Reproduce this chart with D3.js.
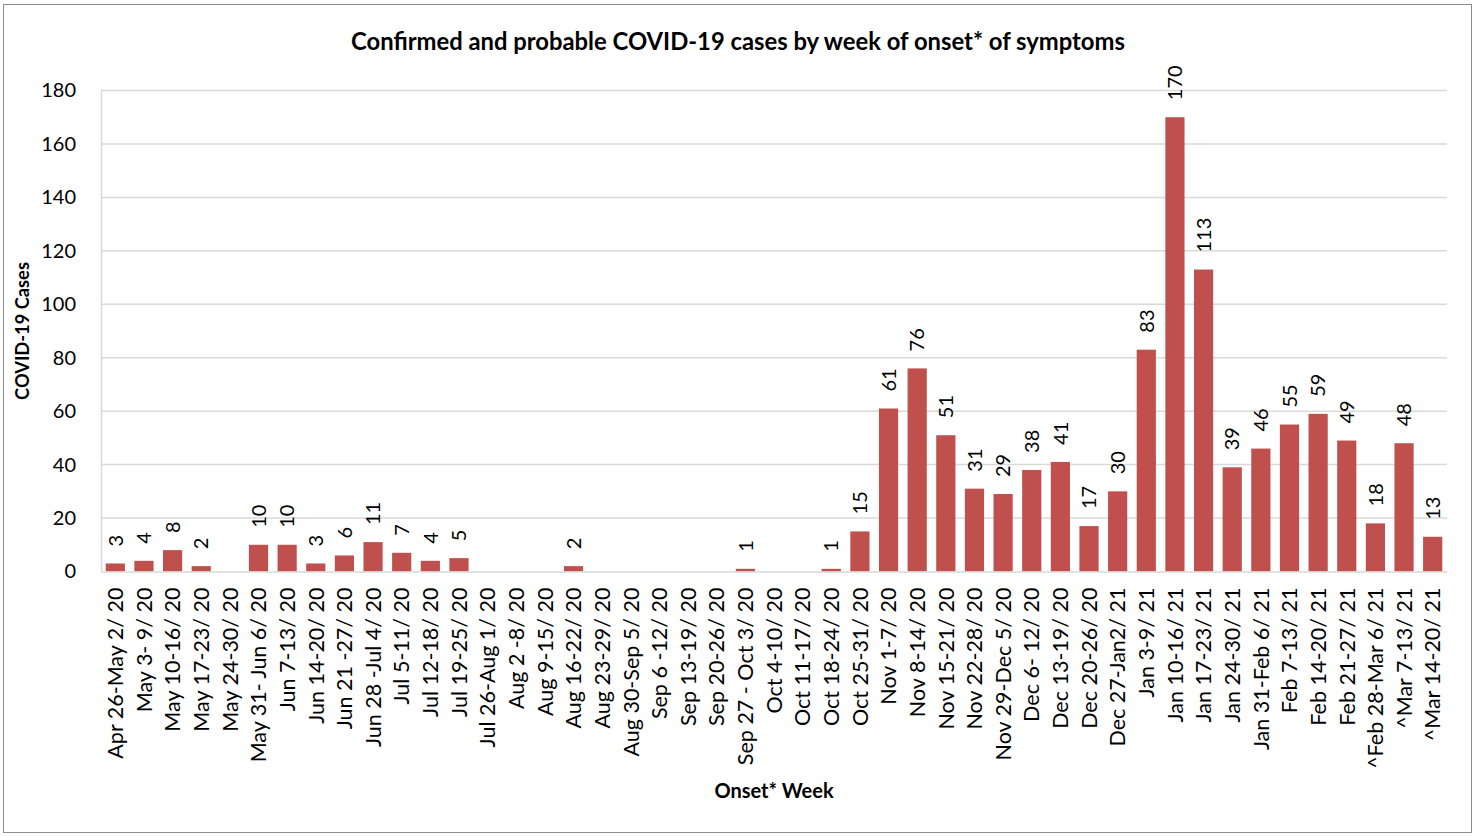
<!DOCTYPE html>
<html>
<head>
<meta charset="utf-8">
<script src="https://cdn.jsdelivr.net/npm/d3@7"></script>
<style>
  html, body { margin: 0; padding: 0; background: #fff; }
  svg { display: block; font-family: Lato, "Open Sans", sans-serif; }
</style>
</head>
<body>
<svg id="chart" width="1476" height="836"></svg>
<script>
const categories = [
  "Apr 26-May 2/ 20", "May 3- 9/ 20", "May 10-16/ 20", "May 17-23/ 20", "May 24-30/ 20",
  "May 31- Jun 6/ 20", "Jun 7-13/ 20", "Jun 14-20/ 20", "Jun 21 -27/ 20", "Jun 28 -Jul 4/ 20",
  "Jul 5-11/ 20", "Jul 12-18/ 20", "Jul 19-25/ 20", "Jul 26-Aug 1/ 20", "Aug 2 -8/ 20",
  "Aug 9-15/ 20", "Aug 16-22/ 20", "Aug 23-29/ 20", "Aug 30-Sep 5/ 20", "Sep 6 -12/ 20",
  "Sep 13-19/ 20", "Sep 20-26/ 20", "Sep 27 - Oct 3/ 20", "Oct 4-10/ 20", "Oct 11-17/ 20",
  "Oct 18-24/ 20", "Oct 25-31/ 20", "Nov 1-7/ 20", "Nov 8-14/ 20", "Nov 15-21/ 20",
  "Nov 22-28/ 20", "Nov 29-Dec 5/ 20", "Dec 6- 12/ 20", "Dec 13-19/ 20", "Dec 20-26/ 20",
  "Dec 27-Jan2/ 21", "Jan 3-9/ 21", "Jan 10-16/ 21", "Jan 17-23/ 21", "Jan 24-30/ 21",
  "Jan 31-Feb 6/ 21", "Feb 7-13/ 21", "Feb 14-20/ 21", "Feb 21-27/ 21", "^Feb 28-Mar 6/ 21",
  "^Mar 7-13/ 21", "^Mar 14-20/ 21"
];
// null = no bar and no label shown for that week
const cases = [
  3, 4, 8, 2, null,
  10, 10, 3, 6, 11,
  7, 4, 5, null, null,
  null, 2, null, null, null,
  null, null, 1, null, null,
  1, 15, 61, 76, 51,
  31, 29, 38, 41, 17,
  30, 83, 170, 113, 39,
  46, 55, 59, 49, 18,
  48, 13
];
const yTicks = [0, 20, 40, 60, 80, 100, 120, 140, 160, 180];
const titleText = "Confirmed and probable COVID-19 cases by week of onset* of symptoms";
const yTitle = "COVID-19 Cases";
const xTitle = "Onset* Week";

const data = categories.map((c, i) => ({ cat: c, v: cases[i] }));

const svg = d3.select("#chart");
const W = 1476, H = 836;
const plot = { left: 101, right: 1447, top: 90.5, bottom: 571.5 };

// outer border
svg.append("rect")
  .attr("x", 3.5).attr("y", 4.5).attr("width", W - 8).attr("height", H - 8)
  .attr("fill", "#fff").attr("stroke", "#8c8c8c").attr("stroke-width", 1);

const x = d3.scaleBand().domain(categories).range([plot.left, plot.right])
  .paddingInner(0.33).paddingOuter(0.165);
const y = d3.scaleLinear().domain([0, 180]).range([plot.bottom, plot.top]);

// gridlines
svg.append("g").selectAll("line").data(yTicks.filter(t => t > 0)).join("line")
  .attr("x1", plot.left).attr("x2", plot.right)
  .attr("y1", d => y(d)).attr("y2", d => y(d))
  .attr("stroke", "#d9d9d9").attr("stroke-width", 1.5);

// y axis
const yAxis = svg.append("g").attr("transform", `translate(${plot.left},0)`)
  .call(d3.axisLeft(y).tickValues(yTicks).tickSize(0).tickPadding(25));
yAxis.select(".domain").attr("stroke", "#d9d9d9").attr("stroke-width", 1.5);
yAxis.selectAll("text").attr("font-size", 20).attr("fill", "#000")
  .attr("font-family", "Lato, sans-serif");

// bars
svg.append("g").selectAll("rect").data(data.filter(d => d.v !== null)).join("rect")
  .attr("x", d => x(d.cat)).attr("width", x.bandwidth())
  .attr("y", d => y(d.v)).attr("height", d => y(0) - y(d.v))
  .attr("fill", "#C0504D");

// x axis
const xAxis = svg.append("g").attr("transform", `translate(0,${plot.bottom})`)
  .call(d3.axisBottom(x).tickSize(0).tickPadding(0));
xAxis.select(".domain").attr("stroke", "#d9d9d9").attr("stroke-width", 1.5);
xAxis.selectAll("text")
  .attr("font-size", 21.5).attr("fill", "#000").attr("font-family", "Lato, sans-serif")
  .attr("text-anchor", "end")
  .attr("transform", "translate(0,16) rotate(-90)")
  .attr("x", 0).attr("y", 0).attr("dy", "0.36em");

// data labels
svg.append("g").selectAll("text").data(data.filter(d => d.v !== null)).join("text")
  .attr("transform", d => `translate(${x(d.cat) + x.bandwidth() / 2},${y(d.v) - 17}) rotate(-90)`)
  .attr("text-anchor", "start").attr("dy", "0.36em")
  .attr("font-size", 20).attr("fill", "#000")
  .text(d => d.v);

// titles
svg.append("text").attr("x", 738).attr("y", 50).attr("text-anchor", "middle")
  .attr("font-size", 23.8).attr("font-weight", "bold").attr("fill", "#000")
  .text(titleText);
svg.append("text").attr("transform", "translate(29,331) rotate(-90)")
  .attr("text-anchor", "middle").attr("font-size", 18.3).attr("font-weight", "bold").attr("fill", "#000")
  .text(yTitle);
svg.append("text").attr("x", 774).attr("y", 798).attr("text-anchor", "middle")
  .attr("font-size", 20).attr("font-weight", "bold").attr("fill", "#000")
  .text(xTitle);
</script>
</body>
</html>
